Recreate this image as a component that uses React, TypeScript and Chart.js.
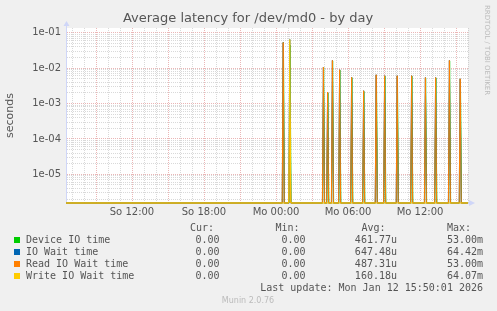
import React, { useEffect, useRef } from 'react';
import { Chart, registerables } from 'chart.js';

Chart.register(...registerables);

// ---- data ----
const startHour = 6.5; // So 06:30
const endHour = 40; // Mo 16:00
const sampleStep = 5 / 60; // 5 min samples
const yMin = 1.55e-6;
const yMax = 0.136;

const seriesNames = ['Device IO time', 'IO Wait time', 'Read IO Wait time', 'Write IO Wait time'];
const seriesColors = ['#00CC00', '#0066B3', '#FF8000', '#FFCC00'];

const spikeHours = [24.6, 25.15, 27.95, 28.3, 28.7, 29.3, 30.3, 31.3, 32.35, 33.05, 34.1, 35.3, 36.45, 37.3, 38.45, 39.35];
const deviceHours = [24.62, 25.17, 27.97, 28.32, 28.72, 29.32, 30.32, 31.32, 32.37, 33.07, 34.12, 35.32, 36.47, 37.32, 38.47, 39.37];
const deviceValues = [0.053, 0.045, 0.0105, 0.002, 0.016, 0.0088, 0.0054, 0.0022, 0.0063, 0.006, 0.006, 0.006, 0.0053, 0.0053, 0.016, 0.0049];
const ioWaitValues = [0.053, 0.06442, 0.0107, 0.0021, 0.0165, 0.009, 0.0055, 0.0023, 0.0065, 0.0061, 0.0061, 0.0061, 0.0054, 0.0054, 0.0165, 0.005];
const readValues = [0.053, 0.00035, 0.0107, 0.0021, 0.0165, 0.009, 0.0055, 0.0023, 0.0065, 0.0061, 0.0061, 0.0061, 0.0054, 0.0054, 0.0165, 0.005];
const writeValues = [0, 0.06407, 0, 0, 0, 0, 0, 0, 0, 0, 0, 0, 0, 0, 0, 0];

const xLabelHours = [12, 18, 24, 30, 36];
const dayNames = ['So', 'Mo'];

const legendCur = ['0.00', '0.00', '0.00', '0.00'];
const legendMin = ['0.00', '0.00', '0.00', '0.00'];
const legendAvg = ['461.77u', '647.48u', '487.31u', '160.18u'];
const legendMax = ['53.00m', '64.42m', '53.00m', '64.07m'];
const titleText = 'Average latency for /dev/md0 - by day';
const lastUpdate = 'Last update: Mon Jan 12 15:50:01 2026';
const versionText = 'Munin 2.0.76';
const sideText = 'RRDTOOL / TOBI OETIKER';

function buildPoints(hours: number[], values: number[]) {
  const pts: { x: number; y: number }[] = [{ x: startHour, y: yMin }];
  hours.forEach((h, i) => {
    const v = values[i];
    if (!v) return;
    pts.push({ x: h - sampleStep, y: yMin }, { x: h, y: v }, { x: h + sampleStep, y: yMin });
  });
  pts.push({ x: endHour, y: yMin });
  return pts;
}

function hourLabel(h: number) {
  const day = dayNames[Math.floor(h / 24)];
  const hh = String(h % 24).padStart(2, '0');
  return `${day} ${hh}:00`;
}

const isDecade = (v: number) => Math.abs(Math.log10(v) - Math.round(Math.log10(v))) < 1e-6;

const FONT = "'DejaVu Sans', sans-serif";
const MONO = "'DejaVu Sans Mono', monospace";
const TEXT = '#555555';
const MAJOR_GRID = 'rgba(215,110,110,0.5)';
const MINOR_GRID = 'rgba(160,160,160,0.4)';

const decorPlugin = {
  id: 'decor',
  beforeDraw(chart: any) {
    const { ctx, chartArea: a } = chart;
    ctx.save();
    ctx.fillStyle = '#F0F0F0';
    ctx.fillRect(0, 0, chart.width, chart.height);
    ctx.fillStyle = '#FFFFFF';
    ctx.fillRect(a.left, a.top, a.right - a.left, a.bottom - a.top);
    ctx.restore();
  },
  afterDraw(chart: any) {
    const { ctx, chartArea: a } = chart;
    ctx.save();
    // title
    ctx.fillStyle = TEXT;
    ctx.font = `13px ${FONT}`;
    ctx.textAlign = 'center';
    ctx.textBaseline = 'middle';
    ctx.fillText(titleText, 248, 19);
    // axis arrows
    ctx.fillStyle = '#CFD6F8';
    ctx.strokeStyle = '#CFD6F8';
    ctx.lineWidth = 1;
    ctx.beginPath();
    ctx.moveTo(a.left + 0.5, a.top);
    ctx.lineTo(a.left + 0.5, a.top - 3);
    ctx.stroke();
    ctx.beginPath();
    ctx.moveTo(a.left - 2.5, a.top - 2);
    ctx.lineTo(a.left + 3.5, a.top - 2);
    ctx.lineTo(a.left + 0.5, a.top - 7);
    ctx.closePath();
    ctx.fill();
    ctx.beginPath();
    ctx.moveTo(a.right + 1, a.bottom - 3);
    ctx.lineTo(a.right + 1, a.bottom + 3);
    ctx.lineTo(a.right + 7, a.bottom);
    ctx.closePath();
    ctx.fill();
    // side text
    ctx.save();
    ctx.translate(487, 5);
    ctx.rotate(Math.PI / 2);
    ctx.fillStyle = '#BBBBBB';
    ctx.font = `7px ${FONT}`;
    ctx.textAlign = 'left';
    ctx.textBaseline = 'middle';
    ctx.fillText(sideText, 0, 0);
    ctx.restore();
    // legend
    ctx.font = `10px ${MONO}`;
    ctx.fillStyle = TEXT;
    ctx.textBaseline = 'middle';
    ctx.textAlign = 'left';
    const headerY = 228.5;
    ctx.fillText('Cur:', 190, headerY);
    ctx.fillText('Min:', 275.5, headerY);
    ctx.fillText('Avg:', 361.5, headerY);
    ctx.fillText('Max:', 447, headerY);
    seriesNames.forEach((name, i) => {
      const y = 240 + i * 12;
      ctx.fillStyle = seriesColors[i];
      ctx.fillRect(14, y - 3, 6, 6);
      ctx.fillStyle = TEXT;
      ctx.textAlign = 'left';
      ctx.fillText(name, 26, y);
      ctx.textAlign = 'right';
      ctx.fillText(legendCur[i], 219.5, y);
      ctx.fillText(legendMin[i], 305.5, y);
      ctx.fillText(legendAvg[i], 397, y);
      ctx.fillText(legendMax[i], 483, y);
    });
    ctx.textAlign = 'right';
    ctx.fillText(lastUpdate, 483, 288);
    ctx.textAlign = 'center';
    ctx.fillStyle = '#BBBBBB';
    ctx.font = `8px ${FONT}`;
    ctx.fillText(versionText, 248, 300.5);
    ctx.restore();
  },
};

export default function App() {
  const ref = useRef<HTMLCanvasElement | null>(null);
  useEffect(() => {
    document.body.style.margin = '0';
    const canvas = ref.current;
    if (!canvas) return;
    const series = [
      buildPoints(deviceHours, deviceValues),
      buildPoints(spikeHours, ioWaitValues),
      buildPoints(spikeHours, readValues),
      buildPoints(spikeHours, writeValues),
    ];
    const chart = new Chart(canvas, {
      type: 'line',
      data: {
        datasets: series.map((data, i) => ({
          label: seriesNames[i],
          data,
          order: series.length - 1 - i,
          borderColor: seriesColors[i],
          backgroundColor: seriesColors[i],
          borderWidth: 1,
          pointRadius: 0,
          tension: 0,
          fill: false,
          clip: 1,
        })),
      },
      options: {
        animation: false,
        responsive: false,
        devicePixelRatio: 1,
        events: [],
        layout: { padding: { left: 0, top: 28, right: 29, bottom: 0 } },
        plugins: { legend: { display: false }, tooltip: { enabled: false }, title: { display: false } },
        scales: {
          x: {
            type: 'linear',
            min: startHour,
            max: endHour,
            afterBuildTicks: (scale: any) => {
              const t = [];
              for (let h = Math.ceil(startHour); h <= endHour; h++) t.push({ value: h });
              scale.ticks = t;
            },
            afterFit: (scale: any) => {
              scale.height = 108;
            },
            ticks: {
              autoSkip: false,
              maxRotation: 0,
              minRotation: 0,
              padding: 3,
              color: TEXT,
              font: { family: FONT, size: 10 },
              callback: (v: any) => (xLabelHours.includes(Number(v)) ? hourLabel(Number(v)) : ''),
            },
            grid: {
              drawTicks: false,
              color: (c: any) => (c.tick && c.tick.value % 3 === 0 ? MAJOR_GRID : MINOR_GRID),
              lineWidth: 1,
            },
            border: { display: true, color: '#CFD6F8', dash: [1, 1] },
          },
          y: {
            type: 'logarithmic',
            min: yMin,
            max: yMax,
            afterBuildTicks: (scale: any) => {
              const t = [];
              for (let e = -6; e <= -1; e++) {
                for (let m = 1; m <= 9; m++) {
                  const v = m * Math.pow(10, e);
                  if (v >= yMin && v <= yMax) t.push({ value: v, major: m === 1 });
                }
              }
              scale.ticks = t;
            },
            afterFit: (scale: any) => {
              scale.width = 66;
            },
            ticks: {
              autoSkip: false,
              padding: 5,
              color: TEXT,
              font: { family: FONT, size: 10 },
              callback: (v: any) => {
                const n = Number(v);
                if (!isDecade(n)) return '';
                const e = Math.round(Math.log10(n));
                return `1e-${String(-e).padStart(2, '0')}`;
              },
            },
            grid: {
              drawTicks: false,
              color: (c: any) => (c.tick && isDecade(c.tick.value) ? MAJOR_GRID : MINOR_GRID),
              lineWidth: 1,
            },
            border: { display: true, color: '#CFD6F8', dash: [1, 1] },
            title: {
              display: true,
              text: 'seconds',
              color: TEXT,
              font: { family: FONT, size: 11 },
              padding: { top: 4, bottom: 0 },
            },
          },
        },
      },
      plugins: [decorPlugin],
    } as any);
    return () => chart.destroy();
  }, []);
  return (
    <div style={{ position: 'absolute', left: 0, top: 0, width: 497, height: 311 }}>
      <canvas ref={ref} width={497} height={311} style={{ display: 'block', width: 497, height: 311 }} />
    </div>
  );
}
